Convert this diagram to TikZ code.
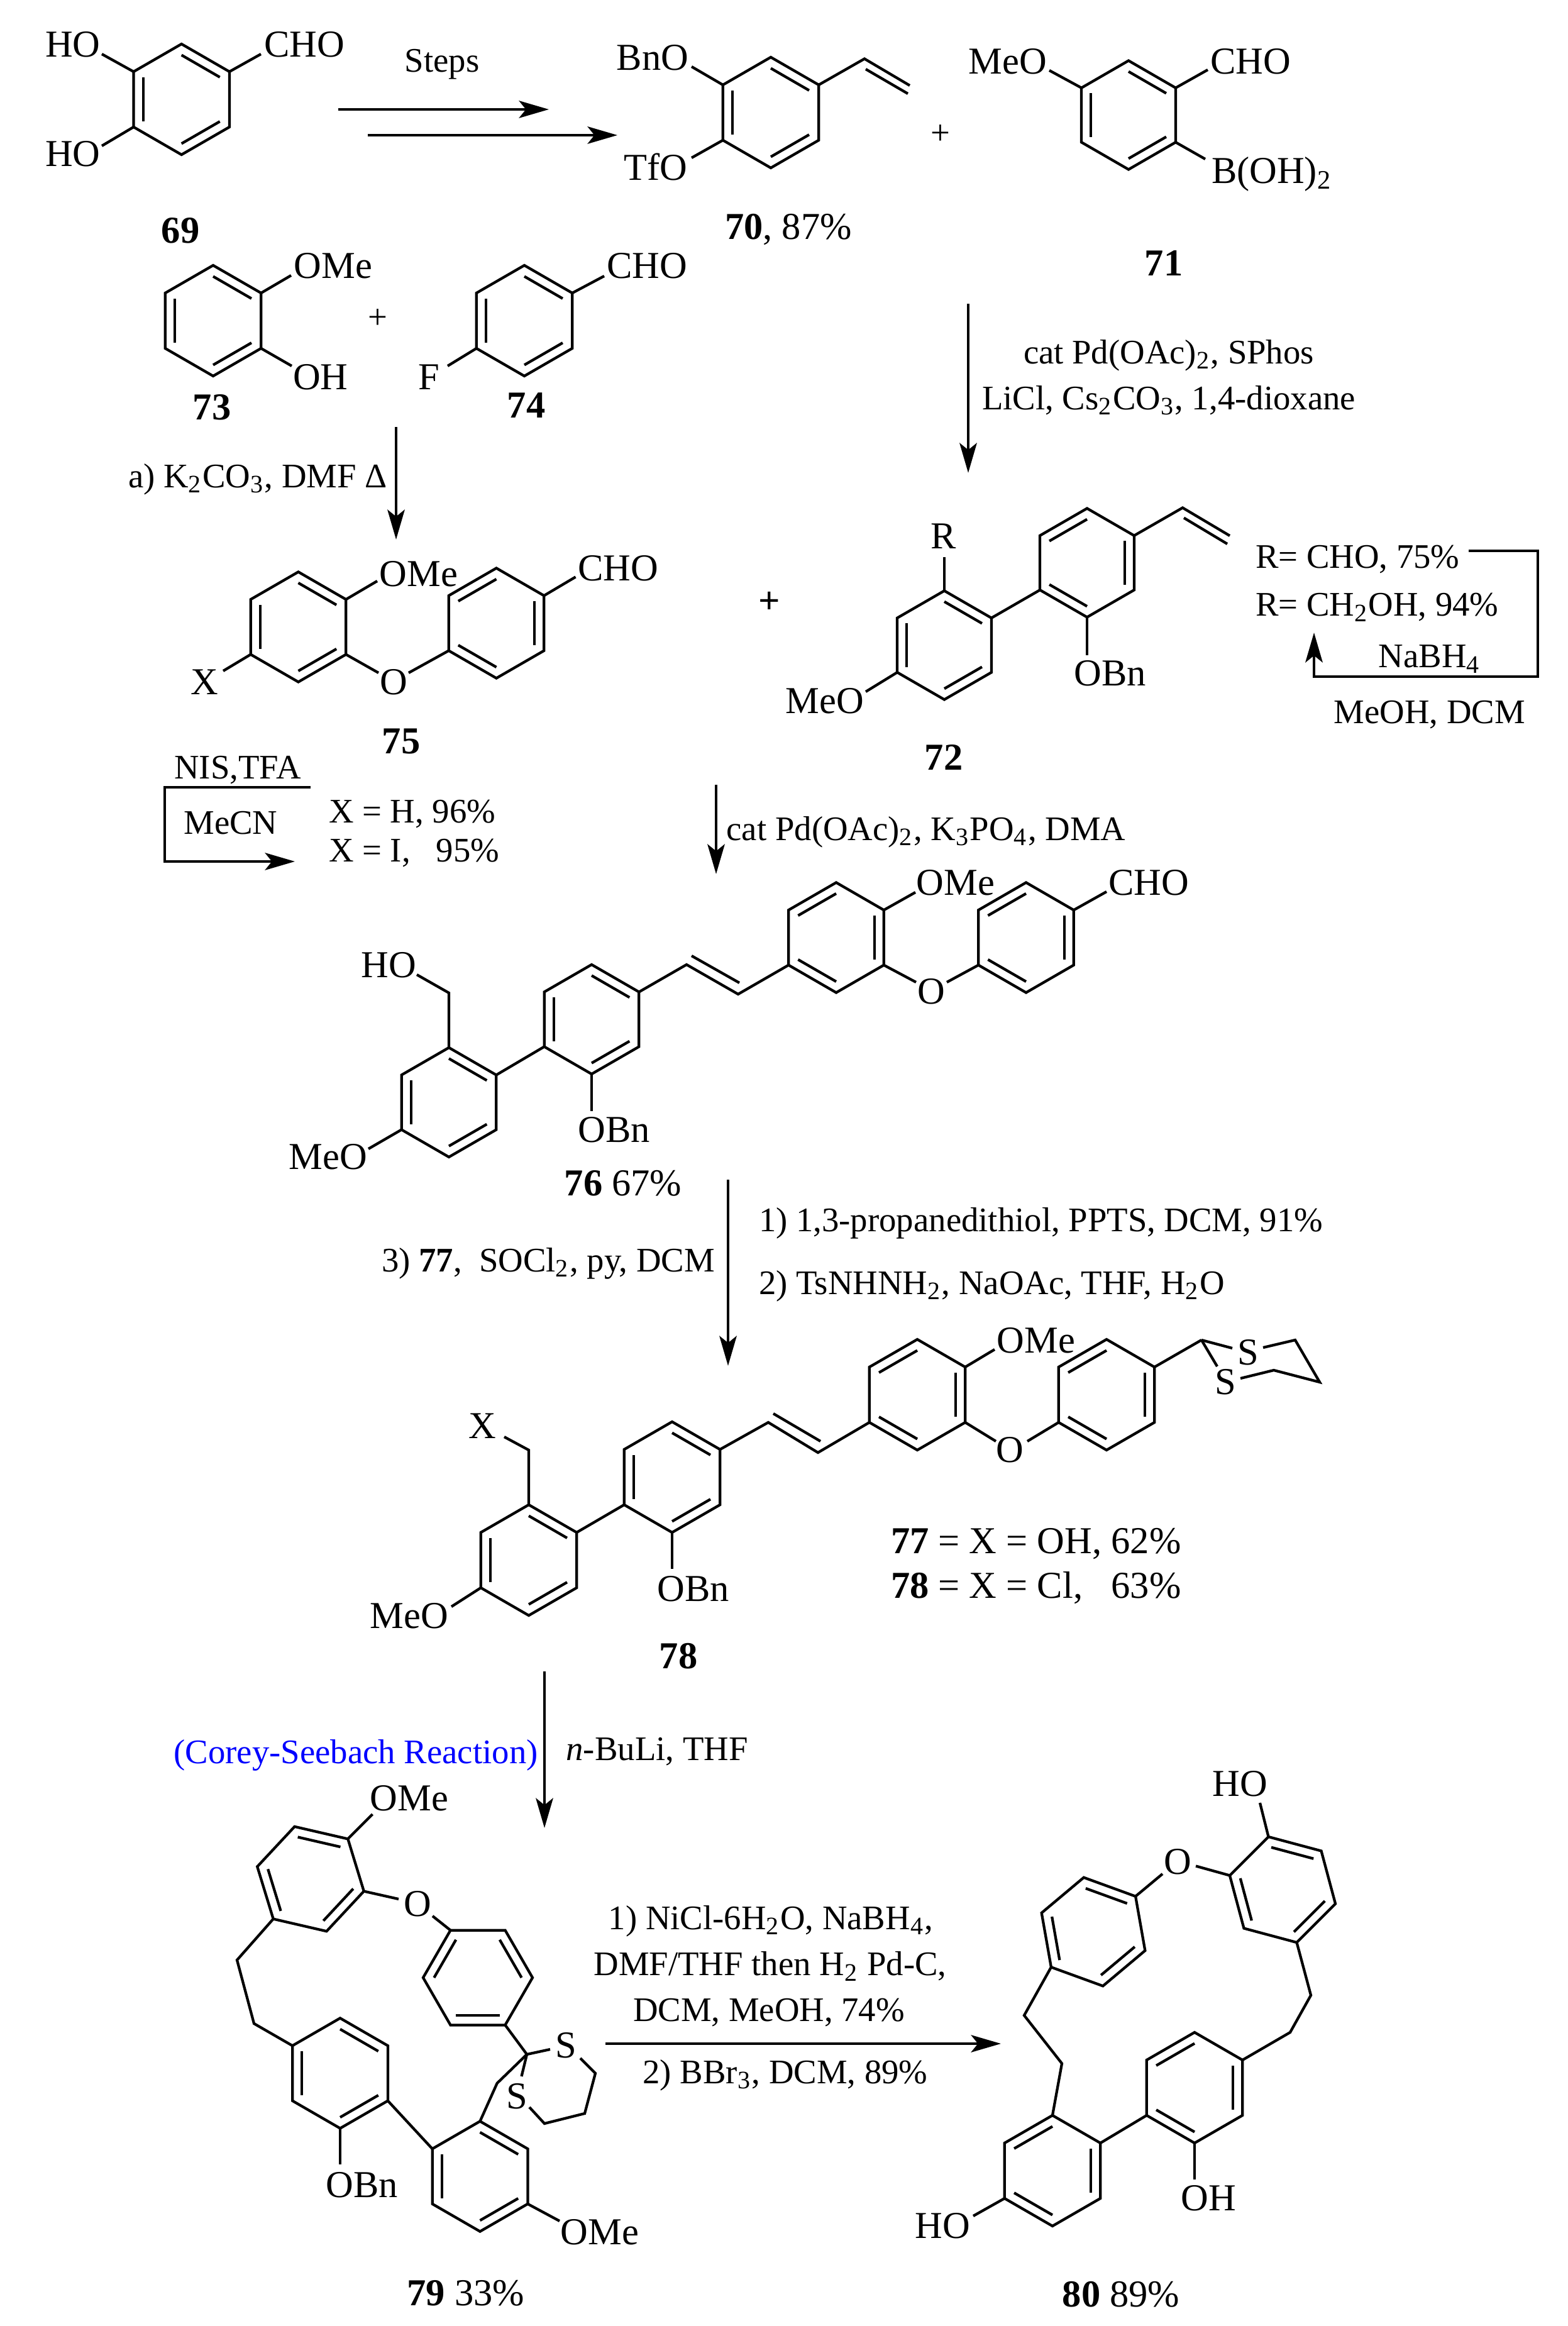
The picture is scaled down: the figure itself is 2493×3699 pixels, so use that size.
\documentclass[tikz,border=0pt]{standalone}
\usepackage{fontspec}
\setmainfont{Liberation Serif}
\usepackage{xcolor}
\usetikzlibrary{arrows.meta,calc}
\definecolor{rxnblue}{RGB}{0,0,255}
\tikzset{
  bond/.style={line width=0.85pt},
  rxn/.style={line width=0.85pt,-{Stealth[length=9.5pt,width=5.5pt,inset=2.2pt]}},
  every node/.style={inner sep=0pt,font=\fontsize{12.1}{14}\selectfont},
  reag/.style={font=\fontsize{10.95}{13}\selectfont}
}
% ring: name, centre x, y, radius, first angle, double bonds
\newcommand{\benzene}[6]{
  \coordinate (#1) at (#2,#3);
  \foreach \i in {0,...,5}{
    \pgfmathsetmacro{\ang}{#5+60*\i}
    \coordinate (#1v\i) at ($(#1)+(\ang:#4)$);
  }
  \draw[bond] (#1v0)--(#1v1)--(#1v2)--(#1v3)--(#1v4)--(#1v5)--cycle;
  \foreach \e/\f in {#6}{
    \draw[bond] ($(#1)!0.8!(#1v\e)$) -- ($(#1)!0.8!(#1v\f)$);
  }
}
% bond from a named point to a new named point
\newcommand{\bondto}[4]{
  \coordinate (#2) at (#3,#4);
  \draw[bond] (#1) -- (#2);
}
\begin{document}
\begin{tikzpicture}[x=0.2pt,y=-0.2pt]
\useasboundingbox (0,0) rectangle (2493,3699);

% 69
\benzene{r69}{288.7}{158}{88}{-90}{0/1,2/3,4/5}
\bondto{r69v5}{b69a}{162}{86}
\bondto{r69v4}{b69b}{162}{232}
\bondto{r69v1}{b69c}{415}{86}
\node (ho69a) at (116,71) {HO};
\node (ho69b) at (116,245) {HO};
\node (cho69) at (484,71) {CHO};
\node (n69) at (287,367) {\textbf{69}};
\node[reag] (steps) at (703,102) {Steps};
\coordinate (s1a) at (538,174);
\coordinate (s1b) at (873,174);
\coordinate (s2a) at (585,215);
\coordinate (s2b) at (982,215);
\path[rxn] (s1a) edge (s1b) (s2a) edge (s2b);

% 70
\benzene{r70}{1226}{179}{88}{-90}{0/1,2/3,4/5}
\bondto{r70v5}{b70a}{1100}{106}
\bondto{r70v4}{b70b}{1100}{251}
\coordinate (vin70a) at (1375,93.5);
\coordinate (vin70b) at (1447,136);
\coordinate (vin70c) at (1377,110);
\coordinate (vin70d) at (1444,149);
\draw[bond] (r70v1) -- (vin70a) -- (vin70b) (vin70c) -- (vin70d);
\node (bno70) at (1038,92) {BnO};
\node (tfo70) at (1043,266) {TfO};
\node (n70) at (1254,365) {\textbf{70}, 87\%};
\node[reag] (plus1) at (1496,214) {+};

% 71
\benzene{r71}{1795}{183}{86.5}{-90}{0/1,2/3,4/5}
\bondto{r71v5}{b71a}{1669}{112}
\bondto{r71v1}{b71b}{1921}{111}
\bondto{r71v2}{b71c}{1917}{253}
\node (meo71) at (1603,98) {MeO};
\node (cho71) at (1989,98) {CHO};
\node[anchor=west] (boh71) at (1926,277) {B(OH)\textsubscript{2}};
\node (n71) at (1851,419) {\textbf{71}};

\coordinate (a72a) at (1540,483);
\coordinate (a72b) at (1540,752);
\path[rxn] (a72a) edge (a72b);
\node[reag] (pd72) at (1859,565) {cat Pd(OAc)\textsubscript{2}, SPhos};
\node[reag] (li72) at (1859,637) {LiCl, Cs\textsubscript{2}CO\textsubscript{3}, 1,4-dioxane};

% 72
\benzene{r72a}{1502}{1026}{86.5}{-90}{0/1,2/3,4/5}
\benzene{r72b}{1729}{895}{86.5}{-90}{1/2,3/4,5/0}
\draw[bond] (r72av1) -- (r72bv4);
\coordinate (vin72a) at (1881,807.5);
\coordinate (vin72b) at (1956,852);
\coordinate (vin72c) at (1883,823.6);
\coordinate (vin72d) at (1952,865);
\draw[bond] (r72bv1) -- (vin72a) -- (vin72b) (vin72c) -- (vin72d);
\bondto{r72av0}{b72a}{1502}{886}
\bondto{r72bv3}{b72b}{1729}{1042}
\bondto{r72av4}{b72c}{1377}{1100}
\node (r72) at (1501,853) {R};
\node (obn72) at (1766,1071) {OBn};
\node (meo72) at (1312,1115) {MeO};
\node (n72) at (1501,1204) {\textbf{72}};
\node[anchor=west,reag] (rcho) at (1996,890) {R= CHO, 75\%};
\node[anchor=west,reag] (rch2) at (1996,966) {R= CH\textsubscript{2}OH, 94\%};
\node[reag] (nabh) at (2274,1048) {NaBH\textsubscript{4}};
\node[reag] (meoh) at (2274,1137) {MeOH, DCM};
\coordinate (lp1) at (2336,876);
\coordinate (lp2) at (2446,876);
\coordinate (lp3) at (2446,1076);
\coordinate (lp4) at (2090,1076);
\coordinate (lp5) at (2090,1006);
\draw[rxn] (lp1) -- (lp2) -- (lp3) -- (lp4) -- (lp5);

% 73 and 74
\benzene{r73}{339}{510}{88}{-90}{0/1,2/3,4/5}
\benzene{r74}{834}{510}{88}{-90}{0/1,2/3,4/5}
\bondto{r73v1}{b73a}{463}{438}
\bondto{r73v2}{b73b}{464}{582}
\bondto{r74v1}{b74a}{961}{439}
\bondto{r74v4}{b74b}{712}{582}
\node (ome73) at (530,423) {OMe};
\node (oh73) at (510,600) {OH};
\node (n73) at (337,648) {\textbf{73}};
\node[reag] (plus2) at (601,507) {+};
\node (cho74) at (1029,423) {CHO};
\node (f74) at (682,600) {F};
\node (n74) at (837,645) {\textbf{74}};
\coordinate (a75a) at (630,679);
\coordinate (a75b) at (630,858);
\path[rxn] (a75a) edge (a75b);
\node[reag] (k75) at (410,762) {a) K\textsubscript{2}CO\textsubscript{3}, DMF Δ};

% 75
\benzene{r75a}{474.5}{997}{87.5}{-90}{0/1,2/3,4/5}
\benzene{r75b}{789.5}{991}{87.5}{-90}{1/2,3/4,5/0}
\bondto{r75av2}{b75a}{602}{1070}
\bondto{r75bv4}{b75b}{650}{1070}
\bondto{r75av1}{b75c}{600}{924}
\bondto{r75bv1}{b75d}{915.5}{917.5}
\bondto{r75av4}{b75e}{355}{1067}
\node (o75) at (626,1085) {O};
\node (ome75) at (666,913) {OMe};
\node (cho75) at (983,904) {CHO};
\node (x75) at (325,1085) {X};
\node (n75) at (638,1179) {\textbf{75}};
\node (plus3) at (1224,958) {\textbf{+}};
\node[reag] (nis) at (378,1225) {NIS,TFA};
\node[reag] (mecn) at (367,1309) {MeCN};
\node[anchor=west,reag] (xh) at (522,1295) {X = H, 96\%};
\node[anchor=west,reag] (xi) at (522,1357) {X = I, \ \ 95\%};
\coordinate (br1) at (494,1252);
\coordinate (br2) at (262,1252);
\coordinate (br3) at (262,1370);
\coordinate (br4) at (469,1370);
\draw[rxn] (br1) -- (br2) -- (br3) -- (br4);

\coordinate (a76a) at (1139,1248);
\coordinate (a76b) at (1139,1390);
\path[rxn] (a76a) edge (a76b);
\node[reag] (pd76) at (1473,1323) {cat Pd(OAc)\textsubscript{2}, K\textsubscript{3}PO\textsubscript{4}, DMA};

% 76
\benzene{r76a}{714}{1753}{87}{-90}{0/1,2/3,4/5}
\benzene{r76b}{941}{1621}{87}{-90}{0/1,2/3,4/5}
\benzene{r76c}{1330}{1491}{87.5}{-90}{1/2,3/4,5/0}
\benzene{r76d}{1632}{1491}{87.5}{-90}{1/2,3/4,5/0}
\draw[bond] (r76av1) -- (r76bv4);
\coordinate (ch76a) at (714,1579);
\coordinate (ch76b) at (663,1550);
\draw[bond] (r76av0) -- (ch76a) -- (ch76b);
\bondto{r76bv3}{b76a}{941}{1767}
\bondto{r76av4}{b76b}{586}{1827}
\coordinate (alk76a) at (1092,1534);
\coordinate (alk76b) at (1174,1581);
\coordinate (alk76c) at (1100,1520);
\coordinate (alk76d) at (1176,1563);
\draw[bond] (r76bv1) -- (alk76a) -- (alk76b) -- (r76cv4) (alk76c) -- (alk76d);
\bondto{r76cv2}{b76c}{1457}{1562}
\bondto{r76dv4}{b76d}{1506}{1562}
\bondto{r76cv1}{b76e}{1456}{1419}
\bondto{r76dv1}{b76f}{1760}{1418}
\node (ho76) at (618,1535) {HO};
\node (obn76) at (977,1797) {OBn};
\node (meo76) at (522,1840) {MeO};
\node (n76) at (991,1882) {\textbf{76} 67\%};
\node (o76) at (1481,1577) {O};
\node (ome76) at (1520,1404) {OMe};
\node (cho76) at (1827,1404) {CHO};

\coordinate (a78a) at (1158,1876);
\coordinate (a78b) at (1158,2172);
\path[rxn] (a78a) edge (a78b);
\node[reag] (soc) at (872,2009) {3) \textbf{77}, \ SOCl\textsubscript{2}, py, DCM};
\node[anchor=west,reag] (st1) at (1206,1945) {1) 1,3-propanedithiol, PPTS, DCM, 91\%};
\node[anchor=west,reag] (st2) at (1206,2045) {2) TsNHNH\textsubscript{2}, NaOAc, THF, H\textsubscript{2}O};

% 78
\benzene{r78a}{841}{2481}{88}{-90}{0/1,2/3,4/5}
\benzene{r78b}{1069}{2349}{88}{-90}{0/1,2/3,4/5}
\benzene{r78c}{1459}{2218}{88}{-90}{1/2,3/4,5/0}
\benzene{r78d}{1760}{2218}{88}{-90}{1/2,3/4,5/0}
\draw[bond] (r78av1) -- (r78bv4);
\coordinate (ch78a) at (841,2306);
\coordinate (ch78b) at (802,2285);
\draw[bond] (r78av0) -- (ch78a) -- (ch78b);
\coordinate (alk78a) at (1222,2262);
\coordinate (alk78b) at (1301,2310);
\coordinate (alk78c) at (1230,2248);
\coordinate (alk78d) at (1305,2292);
\draw[bond] (r78bv1) -- (alk78a) -- (alk78b) -- (r78cv4) (alk78c) -- (alk78d);
\bondto{r78cv2}{b78a}{1584}{2292}
\bondto{r78dv4}{b78b}{1634}{2292}
\bondto{r78cv1}{b78c}{1582}{2146}
\bondto{r78bv3}{b78d}{1069}{2495}
\bondto{r78av4}{b78e}{718}{2555}
% dithiane on 78
\coordinate (c78) at (1911,2131);
\draw[bond] (r78dv1) -- (c78);
\bondto{c78}{b78f}{1960}{2144}
\bondto{c78}{b78g}{1936}{2173}
\coordinate (dt1) at (2009,2143);
\coordinate (dt2) at (2060,2131);
\coordinate (dt3) at (2099,2198);
\coordinate (dt4) at (2026,2179);
\coordinate (dt5) at (1973,2192);
\draw[bond] (dt1) -- (dt2) -- (dt3) -- (dt4) -- (dt5);
\node (s78a) at (1985.5,2151) {S};
\node (s78b) at (1949,2198) {S};
\node (o78) at (1606,2306) {O};
\node (ome78) at (1648,2132) {OMe};
\node (x78) at (767,2268) {X};
\node (obn78) at (1103,2527) {OBn};
\node (meo78) at (651,2570) {MeO};
\node[anchor=west] (x77) at (1416,2455) {\textbf{77} = X = OH, 62\%};
\node[anchor=west] (x78b) at (1416,2525) {\textbf{78} = X = Cl, \ \ 63\%};
\node (n78) at (1079,2634) {\textbf{78}};

\coordinate (a79a) at (866,2658);
\coordinate (a79b) at (866,2907);
\path[rxn] (a79a) edge (a79b);
\node[reag,text=rxnblue] (corey) at (566,2791) {(Corey-Seebach Reaction)};
\node[reag] (buli) at (1045,2786) {\textit{n}-BuLi, THF};

% 79
\benzene{r79a}{494}{2988}{87}{-107}{0/1,2/3,4/5}
\benzene{r79b}{760}{3145}{87}{-120}{1/2,3/4,5/0}
\benzene{r79c}{541}{3297}{87.6}{-90}{0/1,2/3,4/5}
\benzene{r79d}{763.5}{3461}{87.6}{-90}{0/1,2/3,4/5}
\draw[bond] (r79cv2) -- (r79dv5);
\coordinate (et79a) at (377,3117);
\coordinate (et79b) at (404,3218);
\draw[bond] (r79av4) -- (et79a) -- (et79b) -- (r79cv5);
\bondto{r79av1}{b79a}{592.5}{2885}
\bondto{r79av2}{b79b}{634}{3020}
\coordinate (b79c) at (688,3047);
\draw[bond] (b79c) -- (r79bv0);
\coordinate (c79) at (838,3267);
\coordinate (ch79) at (790.6,3313);
\draw[bond] (r79dv0) -- (ch79) -- (c79) -- (r79bv3);
\bondto{c79}{b79d}{875}{3259}
\bondto{c79}{b79e}{829.5}{3302}
\coordinate (dt79a) at (923,3273);
\coordinate (dt79b) at (947,3297);
\coordinate (dt79c) at (930,3361);
\coordinate (dt79d) at (866,3377);
\coordinate (dt79e) at (842,3351);
\draw[bond] (dt79a) -- (dt79b) -- (dt79c) -- (dt79d) -- (dt79e);
\bondto{r79cv3}{b79f}{541}{3442}
\bondto{r79dv2}{b79g}{890}{3532}
\node (ome79a) at (651,2860) {OMe};
\node (o79) at (664,3028) {O};
\node (s79a) at (900.6,3253) {S};
\node (s79b) at (822,3334) {S};
\node (obn79) at (576,3475) {OBn};
\node (ome79b) at (954,3550) {OMe};
\node (n79) at (741,3647) {\textbf{79} 33\%};

\node[reag] (ni) at (1226,3055) {1) NiCl-6H\textsubscript{2}O, NaBH\textsubscript{4},};
\node[reag] (dmf) at (1225,3127) {DMF/THF then H\textsubscript{2} Pd-C,};
\node[reag] (dcm) at (1223,3200) {DCM, MeOH, 74\%};
\node[reag] (bbr) at (1249,3300) {2) BBr\textsubscript{3}, DCM, 89\%};
\coordinate (a80a) at (963,3250);
\coordinate (a80b) at (1592,3250);
\path[rxn] (a80a) edge (a80b);

% 80
\benzene{r80a}{2040}{3005}{87}{-105}{0/1,2/3,4/5}
\benzene{r80b}{1739}{3072}{87.6}{-100}{0/1,2/3,4/5}
\benzene{r80c}{1900}{3320}{88}{-90}{1/2,3/4,5/0}
\benzene{r80d}{1674}{3452}{88}{-90}{1/2,3/4,5/0}
\draw[bond] (r80dv1) -- (r80cv4);
\coordinate (et80a) at (1629,3205);
\coordinate (et80b) at (1689,3281.5);
\draw[bond] (r80bv4) -- (et80a) -- (et80b) -- (r80dv0);
\coordinate (et80c) at (2085,3173);
\coordinate (et80d) at (2052,3232);
\draw[bond] (r80av3) -- (et80c) -- (et80d) -- (r80cv1);
\bondto{r80av0}{b80a}{2004}{2867}
\bondto{r80av5}{b80b}{1902}{2967.5}
\bondto{r80bv1}{b80c}{1849}{2980}
\bondto{r80dv4}{b80d}{1548}{3524}
\bondto{r80cv3}{b80e}{1900}{3466}
\node (ho80a) at (1972,2837) {HO};
\node (o80) at (1873,2961) {O};
\node (ho80b) at (1499,3539.5) {HO};
\node (oh80) at (1922,3496) {OH};
\node (n80) at (1783,3649) {\textbf{80} 89\%};
\end{tikzpicture}
\end{document}
